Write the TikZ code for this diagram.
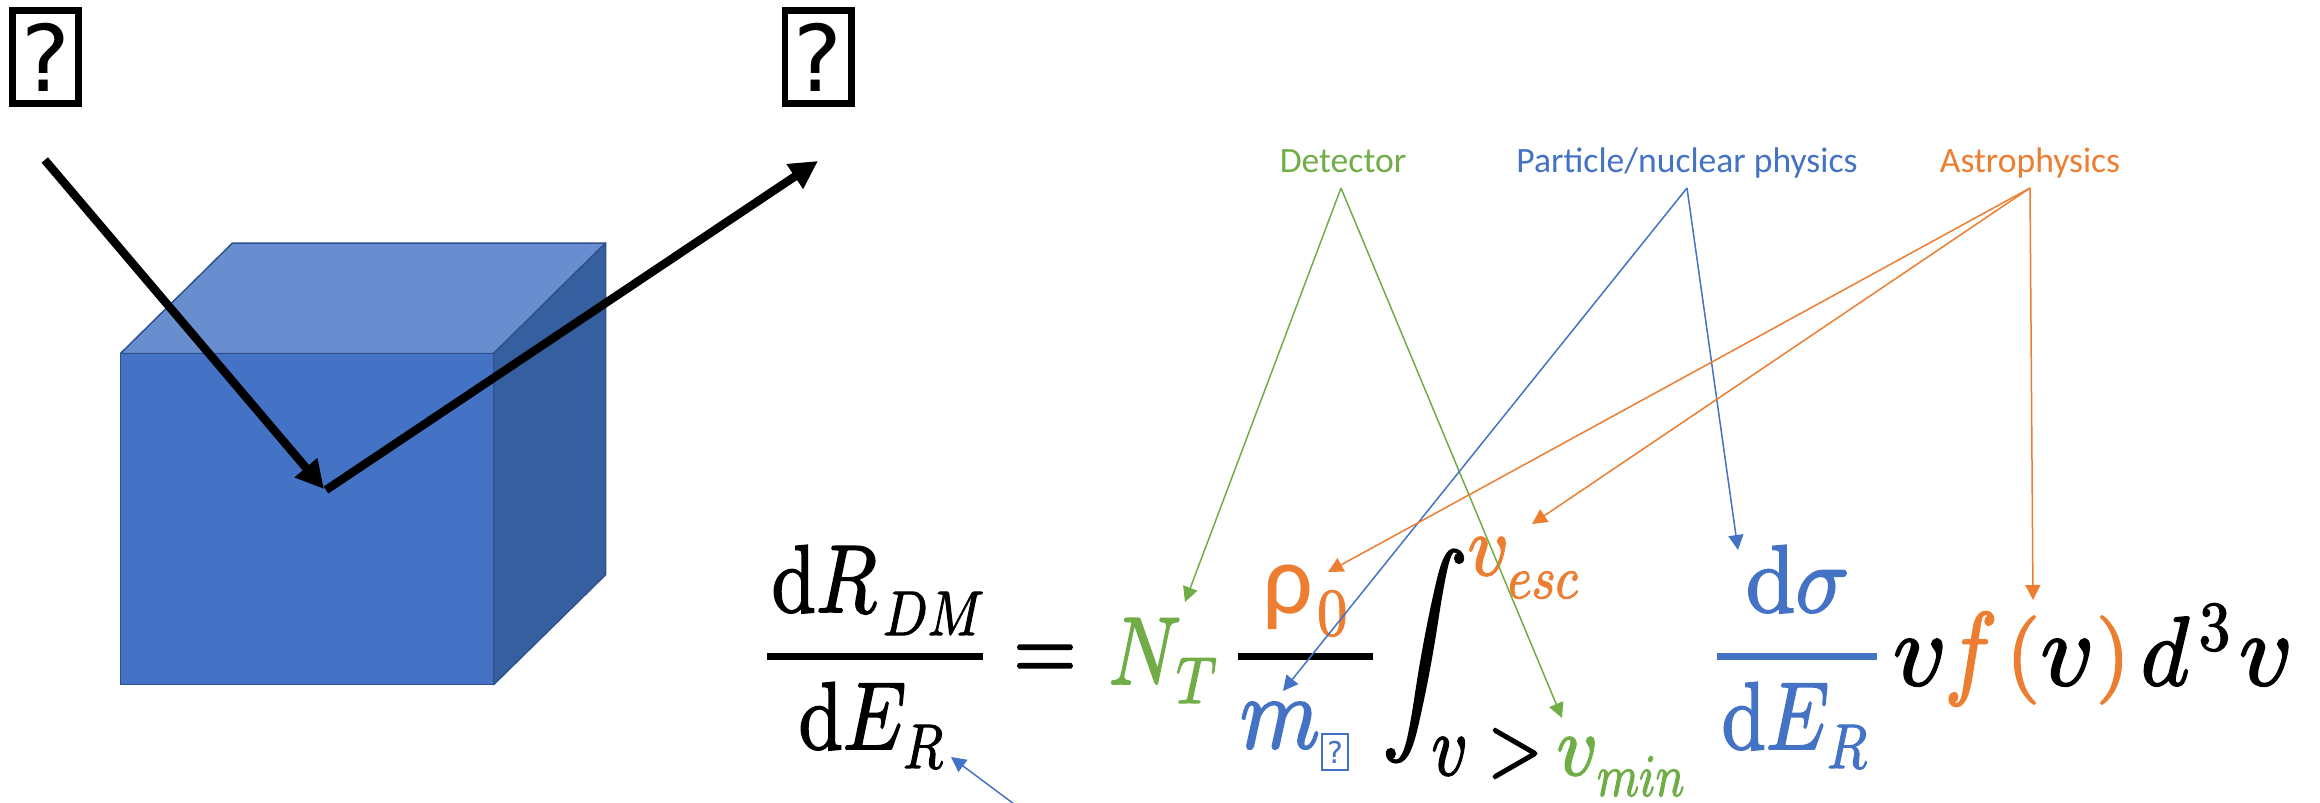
\documentclass[tikz,border=0pt]{standalone}
\usepackage{fontspec}
\newfontfamily\carlito{Carlito}
\newfontfamily\dejavu{DejaVu Sans}
\usetikzlibrary{arrows.meta,calc}
\definecolor{cgreen}{HTML}{70AD47}
\definecolor{cblue}{HTML}{4472C4}
\definecolor{corange}{HTML}{ED7D31}
\definecolor{ctop}{HTML}{698ED0}
\definecolor{cright}{HTML}{365F9F}
\definecolor{cedge}{HTML}{2F528F}
\newcommand\hv[1]{\special{pdf:literal direct 2 Tr 0.2 w}#1\special{pdf:literal direct 0 Tr}}
\tikzset{
  mt/.style 2 args={inner sep=0pt, anchor=base west, font=\fontsize{10}{12}\selectfont, xscale=#1*#2/10, yscale=#1/10},
  mc/.style 2 args={mt={#1}{#2}, anchor=base},
  lbl/.style={font=\carlito\fontsize{17.8}{22}\selectfont, inner sep=0pt, anchor=base},
  qbox/.style={draw, line width=3.3pt, minimum width=33.2pt, minimum height=46.7pt, inner sep=0pt, font=\dejavu\fontsize{46}{50}\selectfont},
  sbox/.style={draw=cblue, text=cblue, line width=0.8pt, minimum width=13pt, minimum height=18pt, inner sep=0pt, font=\dejavu\fontsize{15}{16}\selectfont},
  conn/.style={line width=0.75pt, -{Triangle[length=7.5pt,width=7.5pt]}},
  bigarr/.style={line width=4.2pt, -{Triangle[length=14pt,width=14pt]}},
  fbar/.style={line width=3.5pt},
  face/.style={draw=cedge, line width=0.75pt, line join=round}
}
\begin{document}
\begin{tikzpicture}[x=0.5pt,y=-0.5pt]
\clip (0,0) rectangle (2320,803);
\path[use as bounding box] (0,0) rectangle (2320,803);

% cube
\filldraw[face, fill=ctop] (120.5,353.5) -- (232.5,243) -- (605.6,243) -- (493.7,353.5) -- cycle;
\filldraw[face, fill=cright] (493.7,353.5) -- (605.6,243) -- (605.6,574.7) -- (493.7,684.6) -- cycle;
\filldraw[face, fill=cblue] (120.5,353.5) rectangle (493.7,684.6);

% unknown-glyph boxes
\node[qbox] (chiin) at (45.5,57) {?};
\node[qbox] (chiout) at (818,57) {?};

% scattering arrows
\coordinate (inS) at (44.8,160);
\coordinate (vtx) at (324,489);
\coordinate (vtxb) at (326,490);
\coordinate (outE) at (818,161);
\draw[bigarr] (inS) -- (vtx);
\draw[bigarr] (vtxb) -- (outE);

% equation: left-hand side
\node[mt={48}{.83}] (lnum) at (770,612) {\hv{$\mathrm{d}R$}};
\node[mt={31.5}{.83}] (lnumsub) at (882,635) {\hv{$DM$}};
\draw[fbar] (767,656.5) -- (983,656.5);
\node[mt={48}{.83}] (lden) at (797,749) {\hv{$\mathrm{d}E$}};
\node[mt={31.5}{.83}] (ldensub) at (902,768) {\hv{$R$}};
\node[mc={48}{.85}] (eqsign) at (1045,680.5) {\hv{$=$}};
% N_T
\node[mt={48}{.83}, text=cgreen] (NT) at (1107,684) {\hv{$N$}};
\node[mt={33}{.85}, text=cgreen] (NTsub) at (1175,703) {\hv{$T$}};
% rho_0 / m
\draw[fbar] (1238,656.5) -- (1373,656.5);
\node[inner sep=0pt, anchor=base west, font=\carlito\fontsize{50}{60}\selectfont, text=corange] (rho) at (1262,613) {ρ};
\node[mt={33.5}{.9}, text=corange] (rhosub) at (1316,635) {\hv{$0$}};
\node[mt={52}{.88}, text=cblue] (mchi) at (1238,748) {\hv{$m$}};
\node[sbox] (mchisub) at (1335,752) {?};
% integral and limits
\node[mt={48}{.9}, anchor=center] (integ) at (1425,656) {\hv{$\displaystyle\int$}};
\node[mt={43}{.93}, text=corange] (vesc) at (1466,575) {\hv{$v$}};
\node[mt={30}{.85}, text=corange] (vescsub) at (1507,598) {\hv{$esc$}};
\node[mt={43}{.82}] (vgt) at (1430,775) {\hv{$v>$}};
\node[mt={43}{.93}, text=cgreen] (vmin) at (1555,775) {\hv{$v$}};
\node[mt={30}{.8}, text=cgreen] (vminsub) at (1596,796) {\hv{$min$}};
% dsigma / dE_R
\node[mt={48}{.93}, text=cblue] (dsig) at (1744,612) {\hv{$\mathrm{d}\sigma$}};
\draw[fbar, cblue] (1717,656) -- (1877,656);
\node[mt={48}{.83}, text=cblue] (rden) at (1720,749) {\hv{$\mathrm{d}E$}};
\node[mt={31.5}{.83}, text=cblue] (rdensub) at (1826,768) {\hv{$R$}};
% v f(v) d^3 v
\node[mc={52}{1}] (t1) at (1920,685) {\hv{$v$}};
\node[mc={52}{.85}, text=corange] (tf) at (1971,685) {\hv{$f$}};
\node[mc={44}{1}, text=corange] (tpl) at (2023,682) {\hv{$($}};
\node[mc={52}{1}] (t2) at (2067.5,685) {\hv{$v$}};
\node[mc={44}{1}, text=corange] (tpr) at (2113,682) {\hv{$)$}};
\node[mc={49}{.95}] (td) at (2165,685) {\hv{$d$}};
\node[mc={35}{.9}] (t3) at (2214.5,650) {\hv{$3$}};
\node[mc={52}{1}] (t4) at (2266,685) {\hv{$v$}};

% labels
\node[lbl, text=cgreen] (det) at (1343,172) {Detector};
\node[lbl, text=cblue] (pnp) at (1687,172) {Particle/nuclear physics};
\node[lbl, text=corange] (astro) at (2030,172) {Astrophysics};

% connector end points
\coordinate (detA) at (1341,188);
\coordinate (pnpA) at (1687,188);
\coordinate (astA) at (2030,188);
\coordinate (tNT) at (1185,602);
\coordinate (tvmin) at (1562,718);
\coordinate (tm) at (1283,691);
\coordinate (tdsig) at (1738,550);
\coordinate (trho) at (1328,572);
\coordinate (tvesc) at (1532,524);
\coordinate (tf2) at (2033,600);
\coordinate (bstart) at (1022,810);
\coordinate (tER) at (951,757);

\draw[conn, cgreen] (detA) -- (tNT);
\draw[conn, cgreen] (detA) -- (tvmin);
\draw[conn, cblue] (pnpA) -- (tm);
\draw[conn, cblue] (pnpA) -- (tdsig);
\draw[conn, corange] (astA) -- (trho);
\draw[conn, corange] (astA) -- (tvesc);
\draw[conn, corange] (astA) -- (tf2);
\draw[conn, cblue] (bstart) -- (tER);
\end{tikzpicture}
\end{document}
